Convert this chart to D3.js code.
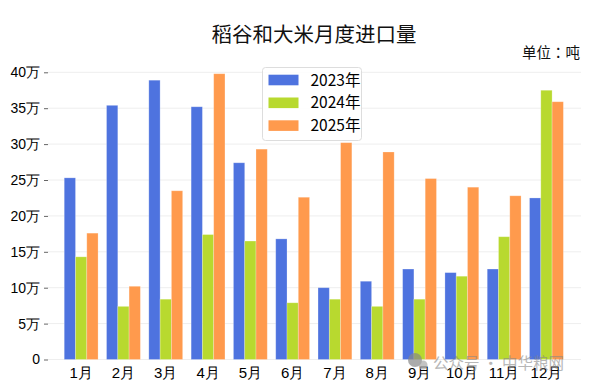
<!DOCTYPE html>
<html lang="en">

<head>
    <meta charset="utf-8">
    <script src="https://d3js.org/d3.v7.min.js"></script>
    <style>
        html, body { margin: 0; padding: 0; background: #fff; }
        svg { display: block; font-family: "Noto Sans CJK SC", "Noto Sans", sans-serif; }
    </style>
</head>

<body>
    <script>
        const months = ["1月", "2月", "3月", "4月", "5月", "6月", "7月", "8月", "9月", "10月", "11月", "12月"];
        const years = ["2023年", "2024年", "2025年"];
        const colors = ["#4e73df", "#b8d92f", "#ff9a4d"];

        // values in 万吨
        const v2023 = [25.3, 35.4, 38.9, 35.2, 27.4, 16.8, 10.0, 10.9, 12.6, 12.1, 12.6, 22.5];
        const v2024 = [14.3, 7.4, 8.4, 17.4, 16.5, 7.9, 8.4, 7.4, 8.4, 11.6, 17.1, 37.5];
        const v2025 = [17.6, 10.2, 23.5, 39.8, 29.3, 22.6, 30.2, 28.9, 25.2, 24.0, 22.8, 35.9];
        const series = [v2023, v2024, v2025];
        const yTicks = [0, 5, 10, 15, 20, 25, 30, 35, 40];

        const width = 593, height = 392;

        const svg = d3.select("body").append("svg")
            .attr("width", width)
            .attr("height", height);

        const x = d3.scaleBand().domain(months).range([60, 567.6]);
        const x1 = d3.scaleBand().domain(d3.range(3)).range([x.bandwidth() * 0.1, x.bandwidth() * 0.9]);
        const y = d3.scaleLinear().domain([0, 40]).range([359.5, 72.3]);

        // grid
        svg.append("g").selectAll("line")
            .data(yTicks)
            .join("line")
            .attr("x1", 48).attr("x2", 581)
            .attr("y1", d => y(d)).attr("y2", d => y(d))
            .attr("stroke", "#eeeeee");

        // bars
        svg.append("g").selectAll("g")
            .data(series)
            .join("g")
            .attr("fill", (d, i) => colors[i])
            .each(function (vals, s) {
                d3.select(this).selectAll("rect")
                    .data(vals)
                    .join("rect")
                    .attr("x", (d, i) => x(months[i]) + x1(s))
                    .attr("y", d => y(d))
                    .attr("width", x1.bandwidth())
                    .attr("height", d => y(0) - y(d))
                    .attr("stroke", "#fff")
                    .attr("stroke-opacity", 0.3)
                    .attr("stroke-width", 0.8);
            });

        // y axis
        const yAxis = d3.axisLeft(y)
            .tickValues(yTicks)
            .tickSize(4)
            .tickPadding(4)
            .tickFormat(d => d === 0 ? "0" : d + "万");
        const gy = svg.append("g").attr("transform", "translate(48,0)").call(yAxis);
        gy.select(".domain").remove();
        gy.selectAll(".tick line").attr("stroke", "#666");
        gy.selectAll("text").attr("font-size", 14).attr("fill", "#000");

        // x axis
        const xAxis = d3.axisBottom(x).tickSize(0).tickPadding(8);
        const gx = svg.append("g").attr("transform", "translate(0,359.5)").call(xAxis);
        gx.select(".domain").remove();
        gx.selectAll("text").attr("font-size", 15).attr("fill", "#000");

        // title and unit
        svg.append("text")
            .attr("x", 314).attr("y", 42)
            .attr("text-anchor", "middle")
            .attr("font-size", 20.5)
            .attr("fill", "#111")
            .text("稻谷和大米月度进口量");

        const unit = svg.append("text")
            .attr("x", 580).attr("y", 58)
            .attr("text-anchor", "end")
            .attr("font-size", 14.5)
            .attr("fill", "#111");
        unit.append("tspan").text("单位");
        // TC face centres the full-width colon, as the picture does
        unit.append("tspan").attr("font-family", "Noto Sans CJK TC").text("：");
        unit.append("tspan").text("吨");

        // legend
        const legend = svg.append("g");
        legend.append("rect")
            .attr("x", 262.5).attr("y", 67.5)
            .attr("width", 99).attr("height", 73)
            .attr("rx", 3)
            .attr("fill", "#fff")
            .attr("fill-opacity", 0.85)
            .attr("stroke", "#dddddd");
        const item = legend.selectAll("g")
            .data(years)
            .join("g")
            .attr("transform", (d, i) => "translate(0," + (80 + i * 22.8) + ")");
        item.append("rect")
            .attr("x", 268.5).attr("y", -5.3)
            .attr("width", 30).attr("height", 10.6)
            .attr("fill", (d, i) => colors[i]);
        item.append("text")
            .attr("x", 310.5).attr("y", 5.5)
            .attr("font-size", 15.5)
            .attr("fill", "#000")
            .text(d => d);

        // watermark
        svg.append("circle")
            .attr("cx", 415).attr("cy", 360).attr("r", 7)
            .attr("fill", "#888").attr("opacity", 0.7);
        svg.append("circle")
            .attr("cx", 423).attr("cy", 365).attr("r", 4.5)
            .attr("fill", "#aaa").attr("opacity", 0.7);
        svg.append("text")
            .attr("x", 433).attr("y", 369)
            .attr("font-size", 15.5)
            .attr("fill", "#888")
            .attr("opacity", 0.6)
            .text("公众号 · 中华粮网");
    </script>
</body>

</html>
